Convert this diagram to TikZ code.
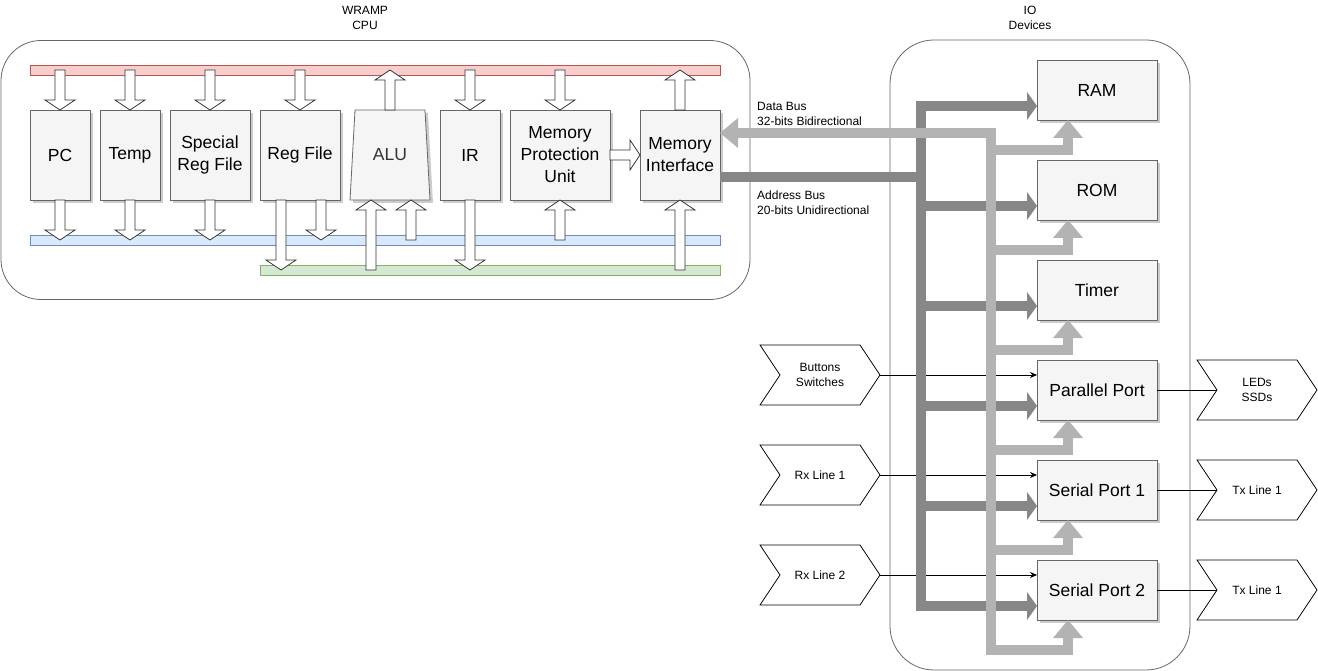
\documentclass[tikz,border=0pt]{standalone}
\usepackage{fontspec}
\setmainfont{Liberation Sans}
\usetikzlibrary{positioning, calc, arrows.meta, shapes.geometric, shapes.symbols, shadows}
\definecolor{boxfill}{HTML}{F5F5F5}
\definecolor{boxline}{HTML}{666666}
\definecolor{redfill}{HTML}{F8CECC}
\definecolor{redline}{HTML}{B85450}
\definecolor{bluefill}{HTML}{DAE8FC}
\definecolor{blueline}{HTML}{6C8EBF}
\definecolor{greenfill}{HTML}{D5E8D4}
\definecolor{greenline}{HTML}{82B366}
\definecolor{addrgray}{HTML}{878787}
\definecolor{datagray}{HTML}{B3B3B3}
\definecolor{alutext}{HTML}{333333}

\begin{document}
\begin{tikzpicture}[x=1pt, y=-1pt,
    container/.style={rectangle, draw=boxline, line width=0.8pt, rounded corners=40pt},
    heading/.style={align=center, inner sep=0pt, font=\fontsize{12}{15}\selectfont},
    box/.style={rectangle, draw=boxline, fill=boxfill, line width=0.8pt,
                minimum height=90pt, inner sep=2pt, outer sep=0pt, align=center,
                font=\fontsize{17.5}{22}\selectfont,
                drop shadow={shadow xshift=3pt, shadow yshift=-3pt, fill=black, opacity=0.2}},
    dev/.style={box, minimum width=120pt, minimum height=60pt},
    busbar/.style={rectangle, minimum height=10pt, inner sep=0pt, line width=0.8pt},
    flex/.style={draw=black!80, fill=white, line width=0.8pt,
                 to path={($(\tikztostart)!5pt!90:(\tikztotarget)$)
                   -- ($(\tikztotarget)!10pt!(\tikztostart)!5pt!-90:(\tikztostart)$)
                   -- ($(\tikztotarget)!10pt!(\tikztostart)!15pt!-90:(\tikztostart)$)
                   -- (\tikztotarget)
                   -- ($(\tikztotarget)!10pt!(\tikztostart)!15pt!90:(\tikztostart)$)
                   -- ($(\tikztotarget)!10pt!(\tikztostart)!5pt!90:(\tikztostart)$)
                   -- ($(\tikztostart)!5pt!-90:(\tikztotarget)$) -- cycle}},
    chev/.style={signal, signal from=west, signal to=east, signal pointer angle=112.6,
                 draw=black, line width=0.8pt, minimum width=120pt, minimum height=60pt,
                 inner sep=0pt, outer sep=0pt, align=center, font=\fontsize{12}{14.5}\selectfont},
    wire/.style={line width=0.6pt, -{Stealth[length=7pt, width=6pt]}},
    lbl/.style={anchor=west, align=left, inner sep=0pt, font=\fontsize{12}{15}\selectfont},
    addrbus/.style={draw=addrgray, line width=10pt},
    addrarrow/.style={addrbus, -{Triangle[length=10pt, width=28pt, line width=0pt]}},
    databus/.style={draw=datagray, line width=10pt},
    dataarrow/.style={databus, -{Triangle[length=18pt, width=30pt, line width=0pt]}}
  ]
  \useasboundingbox (0,0) rectangle (1318,671);

  % CPU
  \node[container, minimum width=749pt, minimum height=259pt] (cpu) at (375.5,170) {};
  \node[heading] (cputitle) at (365,18) {WRAMP\\CPU};
  \node[busbar, fill=redfill, draw=redline, minimum width=690pt] (redbar) at (375,70) {};
  \node[busbar, fill=bluefill, draw=blueline, minimum width=690pt] (bluebar) at (375,240) {};
  \node[busbar, fill=greenfill, draw=greenline, minimum width=460pt] (greenbar) at (490,270) {};

  \node[box, minimum width=60pt] (pc) at (60,155) {PC};
  \node[box, minimum width=60pt, right=10pt of pc] (temp) {Temp};
  \node[box, minimum width=80pt, right=10pt of temp] (sregs) {Special\\Reg File};
  \node[box, minimum width=80pt, right=10pt of sregs] (regfile) {Reg File};
  \node[box, trapezium, trapezium left angle=80.5, trapezium right angle=80.5,
        trapezium stretches=true, minimum width=80pt, text=alutext] (alu) at (390,155) {ALU};
  \node[box, minimum width=60pt] (ir) at (470,155) {IR};
  \node[box, minimum width=100pt, right=10pt of ir] (mpu) {Memory\\Protection\\Unit};
  \node[box, minimum width=80pt, right=30pt of mpu] (memif) {Memory\\Interface};

  \draw[flex] (pc.north |- redbar.center) to (pc.north);
  \draw[flex] (temp.north |- redbar.center) to (temp.north);
  \draw[flex] (sregs.north |- redbar.center) to (sregs.north);
  \draw[flex] (regfile.north |- redbar.center) to (regfile.north);
  \draw[flex] (alu.north) to (alu.north |- redbar.center);
  \draw[flex] (ir.north |- redbar.center) to (ir.north);
  \draw[flex] (mpu.north |- redbar.center) to (mpu.north);
  \draw[flex] (memif.north) to (memif.north |- redbar.center);

  \draw[flex] (pc.south) to (pc.south |- bluebar.center);
  \draw[flex] (temp.south) to (temp.south |- bluebar.center);
  \draw[flex] (sregs.south) to (sregs.south |- bluebar.center);
  \draw[flex] ([xshift=-19pt]regfile.south) to ([xshift=-19pt]regfile.south |- greenbar.center);
  \draw[flex] ([xshift=21pt]regfile.south) to ([xshift=21pt]regfile.south |- bluebar.center);
  \draw[flex] ([xshift=-19pt]alu.south |- greenbar.center) to ([xshift=-19pt]alu.south);
  \draw[flex] ([xshift=21pt]alu.south |- bluebar.center) to ([xshift=21pt]alu.south);
  \draw[flex] (ir.south) to (ir.south |- greenbar.center);
  \draw[flex] (mpu.south |- bluebar.center) to (mpu.south);
  \draw[flex] (memif.south |- greenbar.center) to (memif.south);
  \draw[flex] (mpu.east) to (memif.west);

  % IO devices
  \node[container, rounded corners=44pt, minimum width=300pt, minimum height=630pt] (io) at (1040,355) {};
  \node[heading] (iotitle) at (1030,18) {IO\\Devices};
  \node[dev] (ram) at (1097,90) {RAM};
  \node[dev, below=40pt of ram] (rom) {ROM};
  \node[dev, below=40pt of rom] (timer) {Timer};
  \node[dev, below=40pt of timer] (pp) {Parallel Port};
  \node[dev, below=40pt of pp] (spa) {Serial Port 1};
  \node[dev, below=40pt of spa] (spb) {Serial Port 2};

  \node[chev] (buttons) at (820,375) {Buttons\\Switches};
  \node[chev] (rxa) at (820,475) {Rx Line 1};
  \node[chev] (rxb) at (820,575) {Rx Line 2};
  \node[chev] (leds) at (1257,390) {LEDs\\SSDs};
  \node[chev] (txa) at (1257,490) {Tx Line 1};
  \node[chev] (txb) at (1257,590) {Tx Line 1};

  \draw[wire] (buttons.east) -- ([yshift=15pt]pp.west);
  \draw[wire] (rxa.east) -- ([yshift=15pt]spa.west);
  \draw[wire] (rxb.east) -- ([yshift=15pt]spb.west);
  \draw[line width=0.6pt] (pp.east) -- (leds.west);
  \draw[line width=0.6pt] (spa.east) -- (txa.west);
  \draw[line width=0.6pt] (spb.east) -- (txb.west);

  % Address bus
  \coordinate (ajoin) at (921,177);
  \draw[addrbus] ([yshift=-22pt]memif.east) -- (ajoin);
  \draw[addrbus, {Triangle[length=10pt, width=28pt, line width=0pt]}-{Triangle[length=10pt, width=28pt, line width=0pt]}]
    ([yshift=-16pt]ram.west) -- ([yshift=-16pt]ajoin |- ram.west) -- ([yshift=-16pt]ajoin |- spb.west) -- ([yshift=-16pt]spb.west);
  \draw[addrarrow] ([yshift=-16pt]ajoin |- rom.west) -- ([yshift=-16pt]rom.west);
  \draw[addrarrow] ([yshift=-16pt]ajoin |- timer.west) -- ([yshift=-16pt]timer.west);
  \draw[addrarrow] ([yshift=-16pt]ajoin |- pp.west) -- ([yshift=-16pt]pp.west);
  \draw[addrarrow] ([yshift=-16pt]ajoin |- spa.west) -- ([yshift=-16pt]spa.west);

  % Data bus
  \coordinate (dtop) at (991,133);
  \draw[databus, {Triangle[length=18pt, width=30pt, line width=0pt]}-{Triangle[length=18pt, width=30pt, line width=0pt]}]
    ([yshift=22pt]memif.east) -- (dtop) -- ([yshift=-30pt]dtop |- spb.south) -- ([xshift=-29pt, yshift=-30pt]spb.south) -- ([xshift=-29pt]spb.south);
  \draw[dataarrow] ([yshift=-30pt]dtop |- ram.south) -- ([xshift=-29pt, yshift=-30pt]ram.south) -- ([xshift=-29pt]ram.south);
  \draw[dataarrow] ([yshift=-30pt]dtop |- rom.south) -- ([xshift=-29pt, yshift=-30pt]rom.south) -- ([xshift=-29pt]rom.south);
  \draw[dataarrow] ([yshift=-30pt]dtop |- timer.south) -- ([xshift=-29pt, yshift=-30pt]timer.south) -- ([xshift=-29pt]timer.south);
  \draw[dataarrow] ([yshift=-30pt]dtop |- pp.south) -- ([xshift=-29pt, yshift=-30pt]pp.south) -- ([xshift=-29pt]pp.south);
  \draw[dataarrow] ([yshift=-30pt]dtop |- spa.south) -- ([xshift=-29pt, yshift=-30pt]spa.south) -- ([xshift=-29pt]spa.south);

  \node[lbl] (datalbl) at (757,113.5) {Data Bus\\32-bits Bidirectional};
  \node[lbl] (addrlbl) at (757,202.5) {Address Bus\\20-bits Unidirectional};
\end{tikzpicture}
\end{document}
